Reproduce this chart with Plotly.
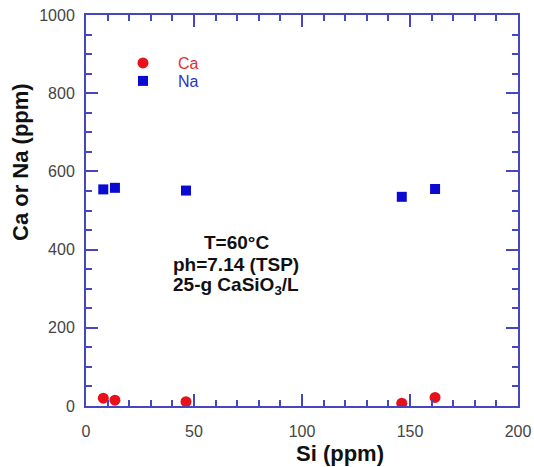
import plotly.graph_objects as go

# Measured concentrations versus dissolved silicon
si_ppm = [8.0, 13.4, 46.3, 146.2, 161.6]
ca_ppm = [20, 15, 11, 7, 22]
na_ppm = [554, 558, 551, 535, 555]

# Plot-area geometry in pixels (used to place the free-standing texts)
L, R, T, B = 86, 518, 15, 406
W, H = R - L, B - T


def px(x):
    return (x - L) / W


def py(y):
    return (B - y) / H


axis_color = "#4646c0"
font_family = "Liberation Sans, Arial, Helvetica, sans-serif"

fig = go.Figure()
fig.add_trace(go.Scatter(
    x=si_ppm, y=ca_ppm, mode="markers", legend="legend",
    name="<span style='color:#e03030'>Ca</span>",
    marker=dict(symbol="circle", size=11, color="#e8101a"),
))
fig.add_trace(go.Scatter(
    x=si_ppm, y=na_ppm, mode="markers", legend="legend2",
    name="<span style='color:#3030c0'>Na</span>",
    marker=dict(symbol="square", size=10, color="#0a0ad2"),
))

common_axis = dict(
    showline=True, linecolor=axis_color, linewidth=2, mirror="allticks",
    ticks="inside", ticklen=12, tickwidth=2, tickcolor=axis_color,
    showgrid=False, zeroline=False, automargin=False,
    tickfont=dict(family=font_family, size=16, color="#444444"),
)

fig.update_xaxes(
    range=[0, 200], dtick=50, tick0=0, ticklabelstandoff=10,
    minor=dict(dtick=10, ticks="inside", ticklen=6, tickwidth=2, tickcolor=axis_color),
    **common_axis,
)
fig.update_yaxes(
    range=[0, 1000], dtick=200, tick0=0, ticklabelstandoff=6,
    minor=dict(dtick=50, ticks="inside", ticklen=6, tickwidth=2, tickcolor=axis_color),
    **common_axis,
)

# Axis titles
fig.add_annotation(
    x=px(340), y=py(453), xref="paper", yref="paper",
    xanchor="center", yanchor="middle",
    text="<b>Si (ppm)</b>", showarrow=False,
    font=dict(family=font_family, size=22, color="#111111"),
)
fig.add_annotation(
    x=px(20), y=py(162), xref="paper", yref="paper",
    xanchor="center", yanchor="middle",
    text="<b>Ca or Na (ppm)</b>", showarrow=False, textangle=-90,
    font=dict(family=font_family, size=22, color="#111111"),
)

# Experimental conditions
conditions = ["T=60°C", "ph=7.14 (TSP)", "25-g CaSiO<sub>3</sub>/L"]
for line, ypix in zip(conditions, [242, 264, 286]):
    fig.add_annotation(
        x=px(236), y=py(ypix), xref="paper", yref="paper",
        xanchor="center", yanchor="middle",
        text=f"<b>{line}</b>", showarrow=False,
        font=dict(family=font_family, size=19, color="#111111"),
    )

legend_style = dict(
    xanchor="left", yanchor="top", bgcolor="rgba(0,0,0,0)", itemwidth=60,
    font=dict(family=font_family, size=16),
)
fig.update_layout(
    width=534, height=467,
    margin=dict(l=L, r=534 - R, t=T, b=467 - B),
    paper_bgcolor="white", plot_bgcolor="white",
    showlegend=True,
    legend=dict(x=px(108), y=py(46), **legend_style),
    legend2=dict(x=px(108), y=py(64), **legend_style),
)

fig.write_html("out.html")
